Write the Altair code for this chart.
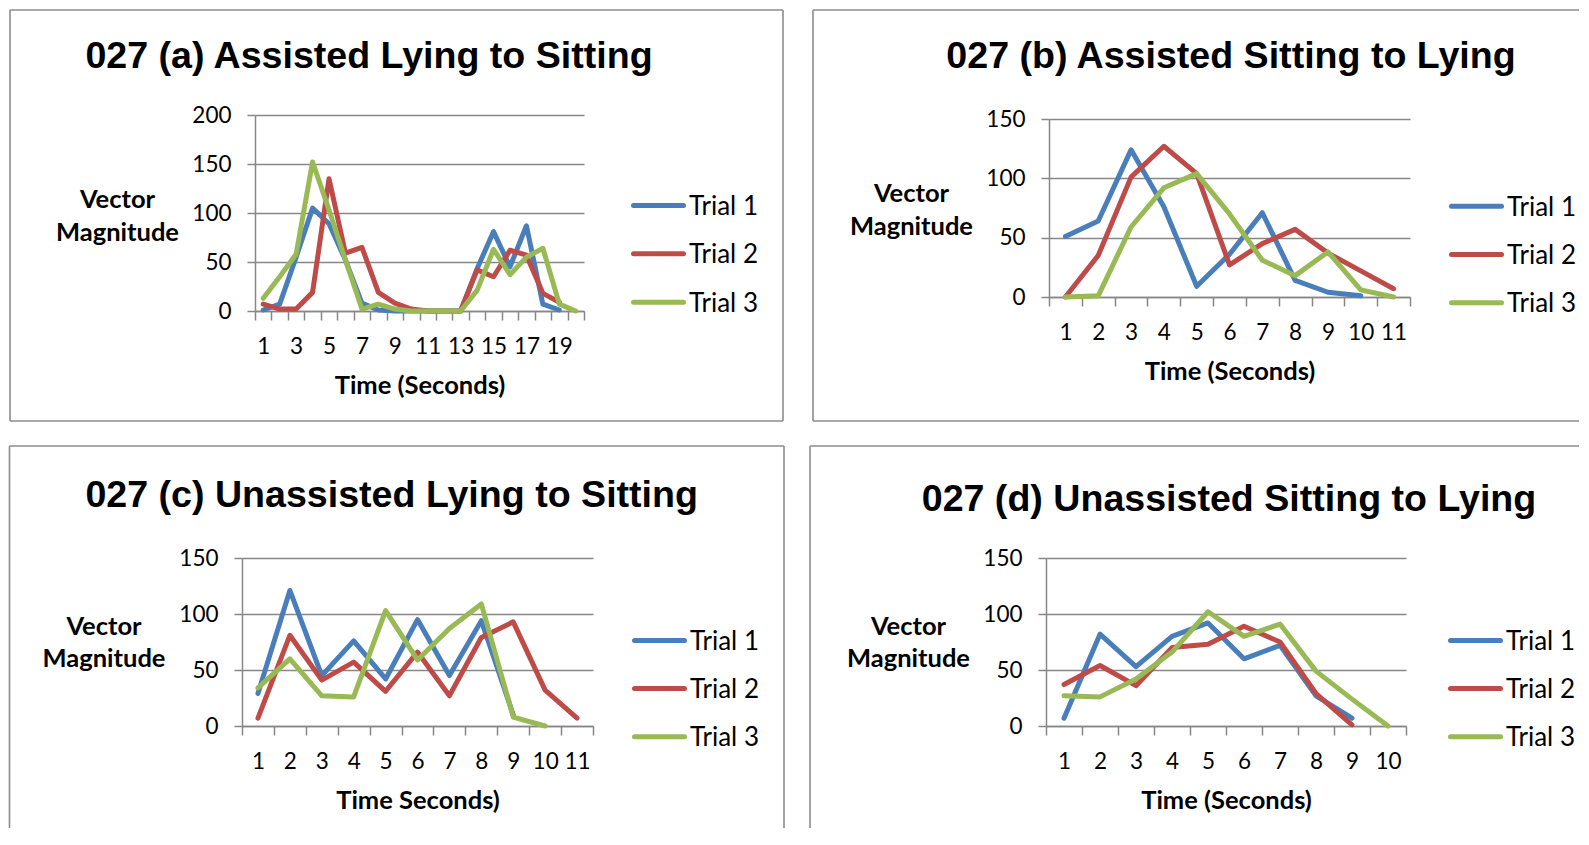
import altair as alt
import pandas as pd

TRIALS = ["Trial 1", "Trial 2", "Trial 3"]
COLORS = ["#4A7EBB", "#BE4B48", "#98B954"]
GRID = "#878787"
BOX = "#8c8c8c"
YTITLE = ["Vector", "Magnitude"]

# ---- Panel (a)
A_TITLE = "027 (a) Assisted Lying to Sitting"
A_XTITLE = "Time (Seconds)"
A_T1 = [1, 7, 55, 105, 89, 52, 8, 1, 0, 0, 0, 0, 0, 43, 81, 45, 87, 7, 1]
A_T2 = [7, 2, 2, 19, 135, 59, 65, 19, 8, 2, 0, 0, 0, 42, 35, 62, 57, 18, 9]
A_T3 = [13, 35, 58, 152, 103, 52, 2, 7, 2, 0, 0, 0, 0, 21, 63, 37, 55, 64, 7, 0]
A_N = 20
A_YTICKS = [0, 50, 100, 150, 200]

# ---- Panel (b)
B_TITLE = "027 (b) Assisted Sitting to Lying"
B_XTITLE = "Time (Seconds)"
B_T1 = [51, 64, 124, 76, 9, 36, 71, 14, 4, 1]
B_T2 = [0, 35, 101, 127, 104, 27, 45, 57, 37, 22, 7]
B_T3 = [0, 1, 59, 92, 104, 70, 31, 18, 38, 6, 0]
B_N = 11
B_YTICKS = [0, 50, 100, 150]

# ---- Panel (c)
C_TITLE = "027 (c) Unassisted Lying to Sitting"
C_XTITLE = "Time Seconds)"
C_T1 = [29, 121, 45, 76, 42, 95, 45, 94, 10]
C_T2 = [7, 81, 41, 57, 31, 66, 27, 79, 93, 32, 7]
C_T3 = [34, 60, 27, 26, 103, 59, 87, 109, 8, 0]
C_N = 11
C_YTICKS = [0, 50, 100, 150]

# ---- Panel (d)
D_TITLE = "027 (d) Unassisted Sitting to Lying"
D_XTITLE = "Time (Seconds)"
D_T1 = [7, 82, 53, 80, 92, 60, 72, 27, 7]
D_T2 = [37, 54, 36, 70, 73, 89, 75, 29, 1]
D_T3 = [27, 26, 42, 66, 102, 80, 91, 49, 24, 0]
D_N = 10
D_YTICKS = [0, 50, 100, 150]

COLOR_SCALE = alt.Scale(domain=TRIALS, range=COLORS)


def make_df(series):
    rows = []
    for trial, vals in zip(TRIALS, series):
        for i, v in enumerate(vals, start=1):
            rows.append({"t": i, "v": v, "trial": trial})
    return pd.DataFrame(rows)


def rule(x, x2, y, y2):
    return alt.Chart(pd.DataFrame({"k": [0]})).mark_rule(
        color=BOX, strokeWidth=1.6
    ).encode(x=alt.value(x), x2=alt.value(x2), y=alt.value(y), y2=alt.value(y2))


def panel(series, n, yticks, title, xtitle, vw, vh, xr, yr, yoff,
          tx, ty, ytx, yty, lx, lrows, box, step):
    df = make_df(series)
    pw = xr[1] - xr[0]
    xticks = [i - 0.5 for i in range(1, n + 2)]
    if step == 2:
        lexpr = f"datum.value < {n} && (datum.value + 0.5) % 2 == 1 ? format(datum.value + 0.5, 'd') : ''"
    else:
        lexpr = f"datum.value < {n} ? format(datum.value + 0.5, 'd') : ''"
    yaxis_kw = dict(values=yticks, title=YTITLE, titleAngle=0,
                    titleX=ytx, titleY=yty, titleAlign="center",
                    titleBaseline="middle", titleLineHeight=32.5,
                    titleFont="Lato", titleFontSize=25.5,
                    titleFontWeight="bold", titleColor="black",
                    labelFont="Lato", labelFontSize=22.5,
                    labelColor="black", labelPadding=16,
                    tickSize=8, tickColor=GRID, tickWidth=1.5,
                    domainColor=GRID, domainWidth=1.5, grid=True,
                    gridColor=GRID, gridWidth=1.5)
    if yoff:
        yaxis_kw["offset"] = yoff
    lines = alt.Chart(df).mark_line(
        strokeWidth=5, strokeJoin="round", strokeCap="round"
    ).encode(
        x=alt.X("t:Q",
                scale=alt.Scale(domain=[0.5, n + 0.5], nice=False, zero=False,
                                range=list(xr)),
                axis=alt.Axis(values=xticks, title=xtitle, labelExpr=lexpr,
                              labelOffset=pw / n / 2, labelFlush=False,
                              labelOverlap=False, labelPadding=15,
                              labelFont="Lato", labelFontSize=22.5,
                              labelColor="black", tickSize=9,
                              tickColor=GRID, tickWidth=1.5,
                              domainColor=GRID, domainWidth=1.5, grid=False,
                              titleFont="Lato", titleFontSize=25.5,
                              titleFontWeight="bold", titleColor="black",
                              titleY=74, titleBaseline="middle")),
        y=alt.Y("v:Q",
                scale=alt.Scale(domain=[0, yticks[-1]], nice=False,
                                range=list(yr)),
                axis=alt.Axis(**yaxis_kw)),
        color=alt.Color("trial:N", scale=COLOR_SCALE, legend=None),
    )
    leg_df = pd.DataFrame({"trial": TRIALS})
    leg_y = alt.Y("trial:N", axis=None,
                  scale=alt.Scale(type="point", domain=TRIALS,
                                  range=[lrows[0], lrows[1]], padding=0))
    leg_lines = alt.Chart(leg_df).mark_rule(
        strokeWidth=5, strokeCap="round"
    ).encode(
        x=alt.value(lx + 2.5), x2=alt.value(lx + 52.5), y=leg_y,
        color=alt.Color("trial:N", scale=COLOR_SCALE, legend=None),
    )
    leg_text = alt.Chart(leg_df).mark_text(
        align="left", baseline="middle", font="Lato", fontSize=26,
        color="black", dy=1.5
    ).encode(x=alt.value(lx + 58), y=leg_y, text="trial:N")
    ttl = alt.Chart(pd.DataFrame({"title": [title]})).mark_text(
        font="Liberation Sans", fontSize=37.6, fontWeight="bold",
        align="center", baseline="alphabetic", color="black"
    ).encode(text="title:N", x=alt.value(tx), y=alt.value(ty))
    left, right, top, bottom, open_right, open_bottom = box
    parts = [rule(left, left, top, bottom), rule(left, right, top, top)]
    if not open_right:
        parts.append(rule(right, right, top, bottom))
    if not open_bottom:
        parts.append(rule(left, right, bottom, bottom))
    return alt.layer(lines, leg_lines, leg_text, ttl, *parts).resolve_scale(
        y="independent"
    ).properties(width=vw, height=vh)


# views: column 1 at x=254, column 2 at x=1048; row 1 at y=118, row 2 at y=557
pa = panel([A_T1, A_T2, A_T3], A_N, A_YTICKS, A_TITLE, A_XTITLE,
           329, 192, (0, 329), (192, -4), 0,
           114, -51, -138, 80.6, 376, (86.5, 183.2),
           (-245, 528, -109, 302, False, False), 2)
pb = panel([B_T1, B_T2, B_T3], B_N, B_YTICKS, B_TITLE, B_XTITLE,
           361, 178, (0, 361), (178, 0), 0,
           182, -51, -138, 74.5, 400, (87.2, 183.8),
           (-236, 530, -109, 302, True, False), 1)
pc = panel([C_T1, C_T2, C_T3], C_N, C_YTICKS, C_TITLE, C_XTITLE,
           338, 168, (-13, 338), (168, 0), 13,
           136.7, -51.5, -138.5, 68.3, 377, (82.5, 178.7),
           (-245.5, 529, -112, 270, False, True), 1)
pd_ = panel([D_T1, D_T2, D_T3], D_N, D_YTICKS, D_TITLE, D_XTITLE,
            357, 168, (-3, 357), (168, 0), 3,
            180, -47.4, -138, 68.3, 399, (82.5, 178.7),
            (-239, 530, -112, 270, True, True), 1)

chart = alt.concat(
    pa, pb, pc, pd_, columns=2, bounds="full",
    spacing={"row": 21, "column": 22}
).resolve_scale(color="shared").properties(
    padding={"left": 0, "top": 0, "right": 0, "bottom": 0},
    background="white"
).configure_view(stroke="transparent")

chart.save("out.html", embed_options={"renderer": "svg", "actions": False})
